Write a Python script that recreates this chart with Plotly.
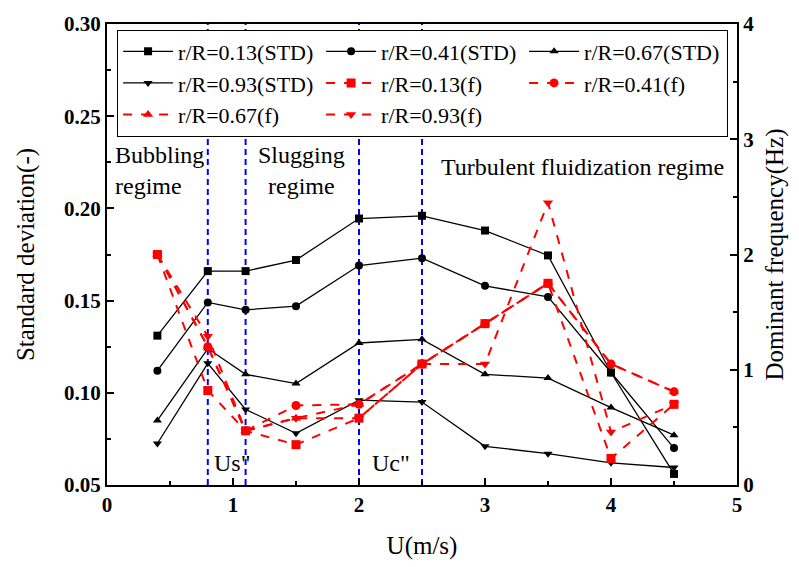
import plotly.graph_objects as go

U = [0.4, 0.8, 1.1, 1.5, 2.0, 2.5, 3.0, 3.5, 4.0, 4.5]

std_013 = [0.131, 0.166, 0.166, 0.172, 0.1945, 0.196, 0.188, 0.1745, 0.111, 0.056]
std_041 = [0.112, 0.149, 0.145, 0.147, 0.169, 0.173, 0.158, 0.152, 0.111, 0.070]
std_067 = [0.085, 0.124, 0.110, 0.105, 0.127, 0.129, 0.110, 0.108, 0.092, 0.077]
std_093 = [0.0725, 0.116, 0.091, 0.078, 0.096, 0.095, 0.071, 0.067, 0.062, 0.0595]

f_013 = [2.0, 0.82, 0.47, 0.35, 0.58, 1.05, 1.40, 1.75, 0.23, 0.70]
f_041 = [2.0, 1.20, 0.47, 0.69, 0.70, 1.05, 1.40, 1.75, 1.05, 0.81]
f_067 = [2.0, 1.20, 0.47, 0.58, 0.70, 1.05, 1.40, 1.75, 1.05, 0.81]
f_093 = [2.0, 1.29, 0.47, 0.58, 0.58, 1.05, 1.05, 2.45, 0.46, 0.70]

std_names = ["r/R=0.13(STD)", "r/R=0.41(STD)", "r/R=0.67(STD)", "r/R=0.93(STD)"]
f_names = ["r/R=0.13(f)", "r/R=0.41(f)", "r/R=0.67(f)", "r/R=0.93(f)"]
symbols = ["square", "circle", "triangle-up", "triangle-down"]

boundaries = [0.8, 1.1, 2.0, 2.5]

FONT = "Liberation Serif, Times New Roman, serif"

fig = go.Figure()
for name, vals, sym in zip(std_names, [std_013, std_041, std_067, std_093], symbols):
    fig.add_trace(go.Scatter(x=U, y=vals, name=name, mode="lines+markers",
                             line=dict(color="black", width=1.3),
                             marker=dict(symbol=sym, size=8, color="black"),
                             yaxis="y"))
for name, vals, sym in zip(f_names, [f_013, f_041, f_067, f_093], symbols):
    fig.add_trace(go.Scatter(x=U, y=vals, name=name, mode="lines+markers",
                             line=dict(color="#ff0000", width=2, dash="dash"),
                             marker=dict(symbol=sym, size=9, color="#ff0000"),
                             yaxis="y2"))

for b in boundaries:
    fig.add_shape(type="line", xref="x", yref="paper", x0=b, x1=b, y0=0, y1=1,
                  line=dict(color="#0000ff", width=2, dash="6px,4px"), layer="below")

ann_font = dict(family=FONT, size=24, color="black")
fig.add_annotation(x=0.05, y=0.2205, xref="x", yref="y", text="Bubbling<br>regime",
                   showarrow=False, xanchor="left", yanchor="middle", align="left", font=ann_font)
fig.add_annotation(x=1.54, y=0.2205, xref="x", yref="y", text="Slugging<br>regime",
                   showarrow=False, xanchor="center", yanchor="middle", align="center", font=ann_font)
fig.add_annotation(x=3.77, y=0.2227, xref="x", yref="y", text="Turbulent fluidization regime",
                   showarrow=False, xanchor="center", yanchor="middle", font=ann_font)
fig.add_annotation(x=0.99, y=0.0618, xref="x", yref="y", text="Us\"",
                   showarrow=False, xanchor="center", yanchor="middle", font=ann_font)
fig.add_annotation(x=2.25, y=0.0618, xref="x", yref="y", text="Uc\"",
                   showarrow=False, xanchor="center", yanchor="middle", font=ann_font)

tick_font = dict(family=FONT, size=21, color="black", weight="bold")
title_font = dict(family=FONT, size=25, color="black")

fig.update_layout(
    width=799, height=567,
    margin=dict(l=107, r=62, t=21, b=80),
    paper_bgcolor="white", plot_bgcolor="white",
    showlegend=True,
    legend=dict(orientation="h", x=0.016, y=0.988, xanchor="left", yanchor="top",
                bgcolor="white", bordercolor="black", borderwidth=1,
                font=dict(family=FONT, size=22, color="black"),
                entrywidth=138, entrywidthmode="pixels", itemwidth=50,
                tracegroupgap=0),
    xaxis=dict(range=[0, 5], dtick=1, tick0=0, showgrid=False, zeroline=False,
               showline=True, linecolor="black", linewidth=2, mirror=True,
               ticks="inside", ticklen=7, tickwidth=2, tickcolor="black",
               minor=dict(ticks="inside", ticklen=4, tickwidth=2, dtick=0.5, tick0=0, tickcolor="black"),
               tickfont=tick_font,
               title=dict(text="U(m/s)", font=title_font, standoff=20)),
    yaxis=dict(range=[0.05, 0.30], dtick=0.05, tick0=0.05, tickformat=".2f",
               showgrid=False, zeroline=False,
               showline=True, linecolor="black", linewidth=2,
               ticks="inside", ticklen=7, tickwidth=2, tickcolor="black",
               minor=dict(ticks="inside", ticklen=4, tickwidth=2, dtick=0.025, tick0=0.05, tickcolor="black"),
               tickfont=tick_font,
               title=dict(text="Standard deviation(-)", font=title_font, standoff=22)),
    yaxis2=dict(range=[0, 4], dtick=1, tick0=0, overlaying="y", side="right",
                showgrid=False, zeroline=False,
                showline=True, linecolor="black", linewidth=2,
                ticks="inside", ticklen=7, tickwidth=2, tickcolor="black",
                minor=dict(ticks="inside", ticklen=4, tickwidth=2, dtick=0.5, tick0=0, tickcolor="black"),
                tickfont=tick_font,
                title=dict(text="Dominant frequency(Hz)", font=title_font, standoff=12)),
)

fig.write_html("out.html")
